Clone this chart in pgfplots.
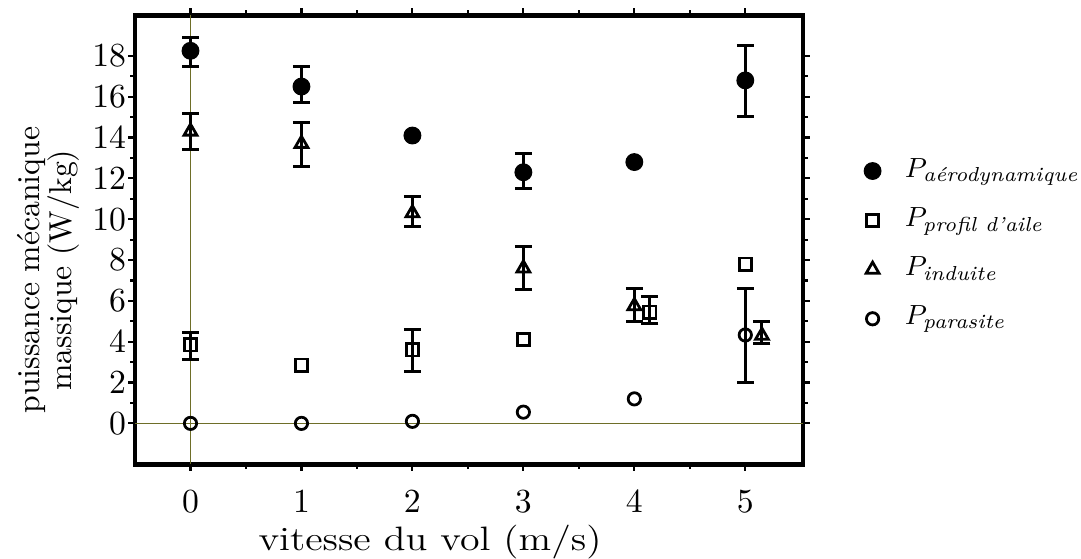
\documentclass[border=0pt]{standalone}
\usepackage{pgfplots}
\usepackage{pgfplotstable}
\usepackage{amsmath}
\pgfplotsset{compat=1.18}
\definecolor{refline}{RGB}{110,110,40}

\pgfplotstableread{
x y ep em
0 18.25 0.65 0.75
1 16.5 1.0 0.8
3 12.3 0.9 0.8
5 16.8 1.7 1.75
}\aeroerr
\pgfplotstableread{
x y
2 14.1
4 12.8
}\aeroplain
\pgfplotstableread{
x y ep em
0 3.85 0.6 0.7
2 3.6 1.0 1.05
4.14 5.45 0.75 0.55
}\proferr
\pgfplotstableread{
x y
1 2.85
3 4.1
5 7.8
}\profplain
\pgfplotstableread{
x y ep em
0 14.3 0.9 0.9
1 13.7 1.05 1.1
2 10.3 0.8 0.65
3 7.6 1.05 1.05
4 5.75 0.85 0.75
5.15 4.3 0.7 0.4
}\inderr
\pgfplotstableread{
x y ep em
5 4.33 2.27 2.33
}\paraerr
\pgfplotstableread{
x y
0 0
1 0
2 0.1
3 0.55
4 1.2
}\paraplain

\pgfplotsset{myleg/.style={legend image code/.code={\draw[##1] plot coordinates {(0pt,0pt)};}}}

\begin{document}
\begin{tikzpicture}
\useasboundingbox (-43.86pt,-30.54pt) rectangle (307.3pt,150.8pt);
\begin{axis}[
  at={(0pt,0pt)}, anchor=south west,
  scale only axis,
  width=217pt, height=145.9pt,
  xmin=-0.5, xmax=5.52, ymin=-2, ymax=20,
  xtick={0,1,2,3,4,5}, minor x tick num=1,
  ytick={0,2,...,18}, minor y tick num=1,
  tick align=outside,
  major tick length=2.2pt, minor tick length=1.6pt,
  every tick/.style={black, line width=0.7pt},
  axis line style={line width=1.6pt},
  tick label style={font=\fontsize{10.5}{12}\selectfont},
  yticklabel style={inner sep=0.5pt},
  xticklabel style={yshift=-3pt},
  xlabel={\scalebox{1.18}[1]{vitesse du vol (m/s)}},
  xlabel style={at={(axis description cs:0.4416,-0.1915)}, anchor=base, font=\fontsize{11}{13}\selectfont},
  ylabel={puissance mécanique\\massique (W/kg)},
  ylabel style={at={(axis description cs:-0.130,0.432)}, anchor=center, rotate=0, align=center, font=\fontsize{10.3}{10.5}\selectfont},
  legend cell align=left,
  legend style={at={(1.0908,0.709)}, anchor=north west, draw=none, fill=none,
    inner sep=0pt, row sep=0pt,
    nodes={text height=8pt, text depth=4pt, inner sep=2pt},
    font=\fontsize{9.4}{11.5}\selectfont},
  error bars/y dir=both, error bars/y explicit,
  error bars/error mark options={black, mark size=2.75pt, line width=1pt, rotate=90},
  error bars/error bar style={black, line width=1pt},
]
\addplot[forget plot, refline, line width=0.5pt] coordinates {(0,-2) (0,20)};
\addplot[forget plot, refline, line width=0.5pt] coordinates {(-0.5,0) (5.52,0)};

\addplot[only marks, myleg, mark=*, mark size=2.7pt, black] table[x=x, y=y, y error plus=ep, y error minus=em] {\aeroerr};
\addlegendentry{\hspace{5.8pt}$P_{\textit{aérodynamique}}$}
\addplot[forget plot, only marks, mark=*, mark size=2.7pt, black, error bars/y dir=none] table[x=x, y=y] {\aeroplain};

\addplot[only marks, myleg, mark=square, mark size=2pt, black, line width=0.9pt] table[x=x, y=y, y error plus=ep, y error minus=em] {\proferr};
\addlegendentry{\hspace{5.8pt}$P_{\textit{profil d'aile}}$}
\addplot[forget plot, only marks, mark=square, mark size=2pt, black, line width=0.9pt, error bars/y dir=none] table[x=x, y=y] {\profplain};

\addplot[only marks, myleg, mark=triangle, mark size=2.4pt, black, line width=0.9pt] table[x=x, y=y, y error plus=ep, y error minus=em] {\inderr};
\addlegendentry{\hspace{5.8pt}$P_{\textit{induite}}$}

\addplot[only marks, myleg, mark=o, mark size=2pt, black, line width=0.9pt] table[x=x, y=y, y error plus=ep, y error minus=em] {\paraerr};
\addlegendentry{\hspace{5.8pt}$P_{\textit{parasite}}$}
\addplot[forget plot, only marks, mark=o, mark size=2pt, black, line width=0.9pt, error bars/y dir=none] table[x=x, y=y] {\paraplain};
\end{axis}
\end{tikzpicture}
\end{document}
